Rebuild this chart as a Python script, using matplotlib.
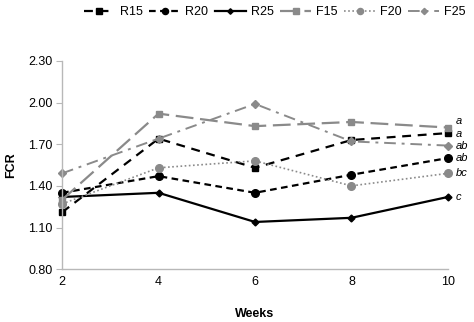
import matplotlib
matplotlib.use("Agg")
import matplotlib.pyplot as plt

plt.rcParams['font.family'] = ['Liberation Sans', 'DejaVu Sans']

weeks = [2, 4, 6, 8, 10]
R15 = [1.21, 1.74, 1.53, 1.73, 1.78]
R20 = [1.35, 1.47, 1.35, 1.48, 1.60]
R25 = [1.32, 1.35, 1.14, 1.17, 1.32]
F15 = [1.30, 1.92, 1.83, 1.86, 1.82]
F20 = [1.27, 1.53, 1.58, 1.40, 1.49]
F25 = [1.49, 1.74, 1.99, 1.72, 1.69]
series_names = ["R15", "R20", "R25", "F15", "F20", "F25"]
letters = ["a", "ab", "c", "a", "bc", "ab"]
yticks = [0.80, 1.10, 1.40, 1.70, 2.00, 2.30]

gray = "#8a8a8a"
styles = {
    "R15": dict(color="black", linestyle=(0, (4, 3)), marker="s", markersize=5, lw=1.6),
    "R20": dict(color="black", linestyle=(0, (3, 2)), marker="o", markersize=5.5, lw=1.6),
    "R25": dict(color="black", linestyle="-", marker="D", markersize=3.5, lw=1.6),
    "F15": dict(color=gray, linestyle=(0, (8, 3)), marker="s", markersize=5, lw=1.6),
    "F20": dict(color=gray, linestyle=(0, (1, 1.5)), marker="o", markersize=5.5, lw=1.2),
    "F25": dict(color=gray, linestyle=(0, (6, 3, 1.5, 3)), marker="D", markersize=4, lw=1.4),
}
data = {"R15": R15, "R20": R20, "R25": R25, "F15": F15, "F20": F20, "F25": F25}

fig = plt.figure(figsize=(4.74, 3.22), dpi=100)
ax = fig.add_axes([0.131, 0.164, 0.814, 0.647])

for name in series_names:
    ax.plot(weeks, data[name], label=name, clip_on=False, **styles[name])

for name, let in zip(series_names, letters):
    y = data[name][-1]
    if name == "F15":
        y += 0.045
    elif name == "R15":
        y -= 0.005
    ax.text(10.17, y, let, fontsize=8, style="italic", va="center", ha="left")

ax.set_xlim(2, 10)
ax.set_ylim(0.80, 2.30)
ax.set_xticks(weeks)
ax.set_yticks(yticks)
ax.set_yticklabels([f"{v:.2f}" for v in yticks])
for s in ["top", "right"]:
    ax.spines[s].set_visible(False)
for s in ["left", "bottom"]:
    ax.spines[s].set_color("#b8b8b8")
    ax.spines[s].set_linewidth(1.0)
ax.tick_params(axis="y", length=4, color="#b8b8b8", labelsize=9, pad=3)
ax.tick_params(axis="x", length=0, labelsize=9, pad=5)
ax.set_ylabel("FCR", fontsize=9, fontweight="bold", labelpad=8)
ax.set_xlabel("Weeks", fontsize=9, fontweight="bold", labelpad=14)

fig.legend(loc="center", bbox_to_anchor=(0.58, 0.963), ncol=6, frameon=False,
           fontsize=9, handlelength=2.5, handletextpad=0.4, columnspacing=0.5,
           borderpad=0.1, markerscale=0.8)

fig.savefig("out.png", dpi=100)
